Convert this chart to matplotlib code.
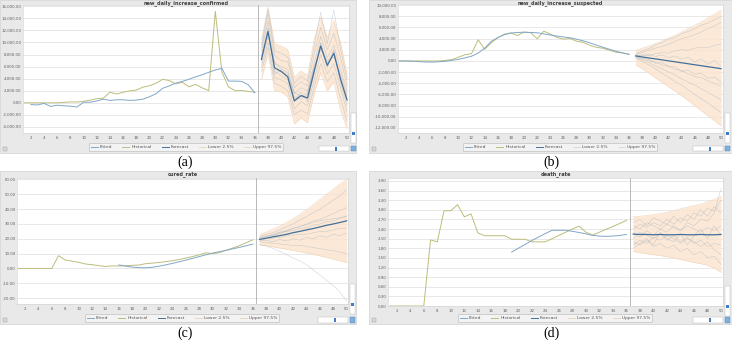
# plot.py
import numpy as np
import matplotlib.pyplot as plt
from matplotlib.patches import Rectangle
from matplotlib.lines import Line2D
from matplotlib.ticker import FuncFormatter

W, H = 732, 342
nan = np.nan

days_hist = list(range(1, 37))
days_fc = list(range(37, 51))
xtick_days = list(range(2, 51, 2))
legend_labels = ["Fitted", "Historical", "Forecast", "Lower 2.5%", "Upper 97.5%"]

# (a) new_daily_increase_confirmed
hist_a = [0, 0, 0, 0, 0, 0, 77, 149, 131, 259, 444, 688, 769, 1771, 1459, 1737, 1982, 2102,
          2590, 2829, 3235, 3887, 3694, 3143, 3399, 2656, 3062, 2478, 2015, 15152, 5090, 2641,
          2009, 2048, 1886, 1749]
fit_a = [nan, -300, -350, -100, -600, -400, -500, -550, -700, 100, 100, 300, 600, 400, 500, 500,
         400, 450, 600, 1000, 1500, 2400, 2800, 3250, 3550, 3900, 4300, 4650, 5050, 5450, 5700,
         3600, 3600, 3550, 3000, 1650]
fc_a = [7200, 11800, 5800, 5200, 4300, 300, 1200, 800, 5200, 9400, 6200, 8200, 4000, 500]
lo_a = [3800, 8200, 2000, 1800, 1000, -3500, -2500, -3300, 1500, 5000, 2000, 3500, -1200, -4300]
hi_a = [10500, 15800, 9800, 9400, 8800, 4200, 5300, 4500, 10500, 14200, 10800, 13600, 10000, 4800]
paths_a = [
    [8500, 13500, 6500, 6000, 5500, 1500, 2500, 2000, 6500, 11000, 7500, 9500, 5500, 2000],
    [6000, 10000, 4200, 3800, 3200, -1000, 200, -500, 3800, 8000, 4800, 6500, 2500, -1500],
    [9000, 14800, 7800, 7000, 6800, 2500, 3500, 2800, 8000, 12500, 8800, 11500, 7500, 2800],
    [5200, 9200, 3200, 2800, 2000, -2000, -1200, -1800, 2600, 6500, 3500, 5000, 800, -3000],
    [7800, 12500, 5200, 4500, 3800, 500, 1800, 200, 4800, 10000, 5800, 8800, 3800, 200],
    [6600, 11000, 6800, 5600, 5000, 1000, 600, 1400, 6000, 8800, 7000, 7600, 4800, 1200],
    [9600, 15500, 8600, 8200, 7600, 3200, 4400, 3600, 9400, 15000, 9800, 15400, 9000, 3800],
    [7000, 12200, 4800, 5400, 4600, 1800, 1000, 1700, 5600, 9800, 6600, 8600, 3300, -400],
]

# (b) new_daily_increase_suspected
hist_b = [0, 0, 0, 0, 0, 0, 0, 100, 250, 680, 1118, 1309, 3806, 2077, 3248, 4148, 4812, 5019,
          4562, 5173, 5072, 3971, 5328, 4833, 4214, 3916, 4008, 3536, 3342, 2807, 2450, 2277,
          1918, 1563, 1432, 1185]
fit_b = [0, 0, -50, -120, -180, -200, -150, -50, 100, 300, 550, 850, 1400, 2300, 3500, 4200,
         4700, 5000, 5100, 5150, 5100, 5050, 4850, 4650, 4450, 4300, 4150, 3900, 3600, 3250,
         2850, 2450, 2100, 1750, 1450, 1200]
fc_b = [900, 720, 540, 370, 200, 20, -150, -330, -500, -680, -850, -1030, -1200, -1380]
lo_b = [-700, -1400, -2200, -3000, -3800, -4600, -5400, -6200, -7100, -8000, -8900, -9800,
        -10700, -11600]
hi_b = [1900, 2300, 2700, 3100, 3600, 4100, 4600, 5200, 5800, 6400, 7000, 7700, 8400, 9100]
paths_b = [
    [1200, 1500, 1900, 2300, 2600, 3000, 3500, 4000, 4300, 4700, 5200, 5800, 6300, 6900],
    [600, 200, -300, -900, -1400, -2000, -2500, -3200, -3800, -4300, -5000, -5600, -6300, -7000],
    [1000, 1100, 1000, 1300, 1500, 1400, 1800, 2000, 1900, 2300, 2500, 2400, 2800, 3000],
    [700, 400, 0, -200, -700, -1000, -1500, -1700, -2300, -2800, -3000, -3600, -4000, -4500],
    [1300, 1800, 2200, 2900, 3300, 3900, 4200, 4900, 5300, 5800, 6400, 6800, 7400, 8000],
    [400, -100, -700, -1400, -2200, -2900, -3700, -4300, -5200, -6000, -6800, -7500, -8400, -9200],
    [1100, 900, 1200, 800, 1100, 600, 900, 300, 700, -200, 400, -600, 100, -900],
    [800, 500, 300, -400, -300, -900, -1100, -1900, -1600, -2400, -2200, -3100, -2900, -3700],
]

# (c) cured_rate
hist_c = [0, 0, 0, 0, 0, 0, 8.6, 5.7, 4.9, 4.1, 3.0, 2.5, 1.9, 1.3, 1.7, 1.6, 1.8, 2.1, 2.3,
          3.2, 3.6, 4.0, 4.6, 5.2, 6.0, 7.0, 8.0, 9.2, 10.5, 10.0, 10.6, 12.2, 13.8, 15.4, 17.3,
          19.3]
fit_c = [nan] * 15 + [2.4, 1.6, 0.9, 0.5, 0.4, 0.8, 1.5, 2.4, 3.4, 4.5, 5.6, 6.8, 8.0, 9.2,
                      10.3, 11.3, 12.2, 13.2, 14.2, 15.3, 16.4]
fc_c = [19.6, 20.4, 21.3, 22.1, 23.0, 24.1, 25.0, 26.0, 26.9, 28.0, 29.1, 30.0, 31.0, 32.1]
lo_c = [16, 15.3, 14.5, 13.7, 13, 12.2, 11.3, 10.5, 9.5, 8.5, 7.5, 6.3, 5.2, 4]
hi_c = [23, 24.5, 26.5, 28.5, 31, 33.5, 36.5, 39.5, 43, 46.5, 50, 53.5, 57, 60]
paths_c = [
    [20.5, 21.5, 23, 24.5, 25.5, 27, 28.5, 29.5, 31, 32, 33, 33.5, 34, 35],
    [16, 15, 13.5, 11.5, 9.5, 7, 5, 2.5, -1, -4.5, -8, -11.5, -16, -22],
    [21.5, 23, 24, 26, 28, 30, 32.5, 35, 37.5, 40, 43, 46, 49, 53],
    [18, 17.5, 17, 16.5, 16, 15.5, 15.5, 15, 14, 13.5, 12.5, 12, 11, 10],
    [19, 20, 20.5, 21, 22, 22.5, 23, 23, 24, 25, 25, 26, 27, 27],
    [20, 21.5, 22, 24, 25, 27, 28, 30, 32, 33, 35, 37, 39, 41],
    [18.5, 19, 18, 19.5, 18.5, 20, 19, 21, 20, 22, 21, 23, 22, 24],
    [21, 22, 22.5, 23.5, 25, 25.5, 27, 27.5, 29, 30, 31.5, 32, 34, 35.5],
]

# (d) death_rate
hist_d = [0, 0, 0, 0, 0, 0, 2.06, 2.0, 2.97, 2.97, 3.16, 2.78, 2.87, 2.28, 2.19, 2.19, 2.19,
          2.19, 2.08, 2.08, 2.08, 2.0, 2.0, 2.0, 2.1, 2.2, 2.3, 2.4, 2.49, 2.3, 2.21, 2.3, 2.39,
          2.48, 2.57, 2.67]
fit_d = [nan] * 18 + [1.68, 1.80, 1.92, 2.04, 2.15, 2.26, 2.36, 2.36, 2.36, 2.33, 2.29, 2.25,
                      2.20, 2.18, 2.17, 2.18, 2.20, 2.23]
fc_d = [2.24, 2.23, 2.23, 2.22, 2.23, 2.22, 2.22, 2.23, 2.22, 2.22, 2.23, 2.22, 2.22, 2.23]
lo_d = [1.70, 1.66, 1.63, 1.60, 1.57, 1.54, 1.50, 1.45, 1.40, 1.36, 1.32, 1.27, 1.18, 1.05]
hi_d = [2.78, 2.80, 2.82, 2.85, 2.88, 2.92, 2.97, 3.03, 3.08, 3.13, 3.18, 3.25, 3.32, 3.42]
paths_d = [
    [2.4, 2.55, 2.45, 2.6, 2.5, 2.7, 2.55, 2.75, 2.65, 2.9, 2.8, 3.05, 2.95, 3.3],
    [2.0, 1.9, 2.05, 1.85, 1.95, 1.8, 1.9, 1.7, 1.8, 1.6, 1.7, 1.5, 1.55, 1.3],
    [2.3, 2.15, 2.35, 2.2, 2.4, 2.3, 2.5, 2.35, 2.6, 2.5, 2.7, 2.65, 2.9, 3.65],
    [2.1, 2.3, 2.2, 2.1, 2.25, 2.05, 2.2, 2.0, 2.15, 1.95, 2.05, 1.85, 1.95, 1.9],
    [2.5, 2.4, 2.6, 2.5, 2.4, 2.55, 2.45, 2.35, 2.5, 2.4, 2.3, 2.45, 2.35, 2.5],
    [1.9, 2.05, 1.95, 2.15, 2.05, 2.2, 2.1, 1.95, 2.1, 2.0, 1.85, 2.0, 1.75, 1.6],
    [2.6, 2.7, 2.5, 2.75, 2.65, 2.55, 2.8, 2.6, 2.85, 2.7, 3.0, 2.8, 3.1, 2.9],
    [1.8, 1.95, 2.1, 1.9, 2.3, 2.1, 2.0, 2.25, 1.9, 2.2, 2.4, 2.1, 2.5, 2.2],
]

C_HIST = "#bdbd7c"
C_FIT = "#80a7c8"
C_FC = "#41709c"
C_PATH = "#93a8bd"
C_BAND = "#fbe4cf"
C_FRAME = "#e9e9e9"


def frac(x0, y0, x1, y1):
    # pixel box (top-left origin) -> figure fraction rect
    return [x0 / W, 1 - y1 / H, (x1 - x0) / W, (y1 - y0) / H]


def box(fig, x0, y0, x1, y1, fc, ec="none", lw=0.4, z=0):
    r = frac(x0, y0, x1, y1)
    fig.add_artist(Rectangle((r[0], r[1]), r[2], r[3], transform=fig.transFigure,
                             facecolor=fc, edgecolor=ec, linewidth=lw, zorder=z))


def panel(fig, frame, plot, title, hist, fit, fc, lo, hi, paths, ylim, yticks, xlim,
          fmt, vline, legend_c, caption, cap_xy):
    fx0, fy0, fx1, fy1 = frame
    px0, py0, px1, py1 = plot
    box(fig, fx0, fy0, fx1, fy1, C_FRAME, ec="#c8c8c8", lw=0.4, z=-5)

    ax = fig.add_axes(frac(*plot))
    ax.set_facecolor("white")
    for yv in yticks:
        ax.axhline(yv, color="#dedede", lw=0.5, zorder=0)
    ax.fill_between(days_fc, lo, hi, color=C_BAND, alpha=0.85, lw=0, zorder=1)
    ax.plot(days_fc, lo, color="#f1d4b8", lw=0.4, zorder=1)
    ax.plot(days_fc, hi, color="#f1d4b8", lw=0.4, zorder=1)
    for p in paths:
        ax.plot(days_fc, p, color=C_PATH, lw=0.3, alpha=0.6, zorder=2)
    ax.plot(days_hist, hist, color=C_HIST, lw=0.7, zorder=3)
    ax.plot(days_hist, fit, color=C_FIT, lw=0.7, zorder=4)
    ax.plot(days_fc, fc, color=C_FC, lw=0.9, zorder=5)
    if vline:
        ax.axvline(36.5, color="#a0a0a0", lw=0.5, zorder=3)

    ax.set_xlim(*xlim)
    ax.set_ylim(*ylim)
    ax.set_yticks(yticks)
    ax.yaxis.set_major_formatter(FuncFormatter(lambda v, pos: fmt.format(v)))
    ax.set_xticks(xtick_days)
    ax.tick_params(axis="both", length=0, labelsize=2.8, labelcolor="#606060", pad=1)
    ax.tick_params(axis="x", pad=2.5)
    for s in ax.spines.values():
        s.set_color("#d0d0d0")
        s.set_linewidth(0.4)

    fig.text((px0 + px1) / 2 / W, 1 - (fy0 + 3) / H, title, ha="center", va="center",
             fontsize=3.6, color="#404040", fontweight="bold")

    handles = [Line2D([], [], color=C_FIT, lw=0.7),
               Line2D([], [], color=C_HIST, lw=0.7),
               Line2D([], [], color=C_FC, lw=0.7),
               Line2D([], [], color="#e8d8c8", lw=0.7),
               Line2D([], [], color="#e8d8c8", lw=0.7)]
    leg = fig.legend(handles, legend_labels, loc="center",
                     bbox_to_anchor=(legend_c[0] / W, 1 - legend_c[1] / H),
                     ncol=5, fontsize=3.2, frameon=True, handlelength=1.6,
                     handletextpad=0.5, columnspacing=2.2, borderpad=0.35,
                     labelcolor="#555555")
    leg.get_frame().set_facecolor("#f6f6f6")
    leg.get_frame().set_edgecolor("#a8a8a8")
    leg.get_frame().set_linewidth(0.4)

    # scroll widgets of the screenshot
    box(fig, px1 + 1.5, py1 - 20, px1 + 6.5, py1 + 10, "white", ec="#b8b8b8", lw=0.3, z=5)
    box(fig, px1 + 2.5, py1 - 1, px1 + 5.5, py1 + 1.5, "#3d7fc1", z=6)
    box(fig, px1 - 30, fy1 - 7, px1, fy1 - 1.5, "white", ec="#b8b8b8", lw=0.3, z=5)
    box(fig, px1 - 14, fy1 - 6.5, px1 - 12, fy1 - 2, "#3d7fc1", z=6)
    box(fig, px1 + 1.5, fy1 - 7, px1 + 6.5, fy1 - 1.5, "#7fb0dc", ec="#4a86c0", lw=0.3, z=5)
    box(fig, fx0 + 3, fy1 - 6, fx0 + 7, fy1 - 2, "#d8d8d8", ec="#9a9a9a", lw=0.3, z=5)

    fig.text(cap_xy[0] / W, 1 - cap_xy[1] / H, caption, ha="center", va="center",
             fontsize=10, family="Liberation Serif", color="black")
    return ax


fig = plt.figure(figsize=(W / 100, H / 100), dpi=100)
fig.patch.set_facecolor("white")

panel(fig, (0, 0, 356, 153), (23, 5, 349, 133), "new_daily_increase_confirmed",
      hist_a, fit_a, fc_a, lo_a, hi_a, paths_a, (-5000, 16200),
      list(range(-4000, 16001, 2000)), (0.8, 50.3), "{:,.2f}", True,
      (186, 147), "(a)", (185, 162))

panel(fig, (369, 0, 732, 153), (398, 4, 723, 133), "new_daily_increase_suspected",
      hist_b, fit_b, fc_b, lo_b, hi_b, paths_b, (-12900, 10200),
      list(range(-12000, 10001, 2000)), (0.8, 50.3), "{:,.2f}", False,
      (560, 147), "(b)", (551, 162))

panel(fig, (0, 171, 356, 324), (17, 178, 348, 304), "cured_rate",
      hist_c, fit_c, fc_c, lo_c, hi_c, paths_c, (-24, 61),
      list(range(-20, 61, 10)), (0.8, 50.2), "{:,.2f}", True,
      (182, 318), "(c)", (185, 333))

panel(fig, (369, 171, 732, 324), (388, 178, 723, 306), "death_rate",
      hist_d, fit_d, fc_d, lo_d, hi_d, paths_d, (0, 3.99),
      [round(0.3 * i, 2) for i in range(14)], (0.7, 50.3), "{:,.2f}", True,
      (555, 318), "(d)", (551, 333))

fig.savefig("out.png", dpi=100, facecolor="white")
